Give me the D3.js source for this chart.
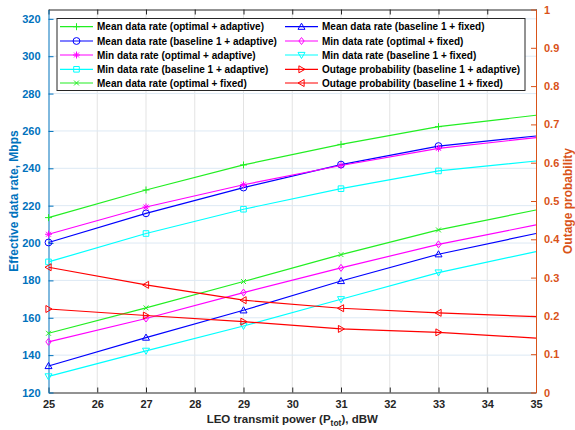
<!DOCTYPE html>
<html>
<head>
<meta charset="utf-8">
<script src="https://cdn.jsdelivr.net/npm/d3@7"></script>
<style>
  body { margin: 0; background: #fff; }
  svg text { font-family: "Liberation Sans", Arial, sans-serif; font-weight: bold; }
</style>
</head>
<body>
<div id="chart"></div>
<script>
// transmit power, dBW (markers on all but the last point)
const power = [25, 27, 29, 31, 33, 35];

// data rates, Mbps (left axis)
const meanOptAdaptive   = [213.6, 228.4, 241.8, 252.8, 262.3, 268.4];
const meanBaseAdaptive  = [200.3, 215.9, 229.7, 242.0, 251.9, 257.3];
const minOptAdaptive    = [204.7, 219.3, 231.2, 241.5, 250.7, 256.4];
const minBaseAdaptive   = [189.9, 205.1, 218.1, 229.1, 238.6, 243.9];
const meanOptFixed      = [151.7, 165.3, 179.4, 193.8, 207.0, 217.7];
const meanBaseFixed     = [134.2, 149.4, 164.0, 179.7, 194.0, 205.1];
const minOptFixed       = [147.1, 159.6, 173.5, 186.7, 199.3, 209.7];
const minBaseFixed      = [128.6, 142.3, 155.6, 169.9, 184.2, 195.4];

// outage probability (right axis)
const outageBaseAdaptive = [0.218, 0.201, 0.185, 0.166, 0.157, 0.142];
const outageBaseFixed    = [0.327, 0.281, 0.241, 0.220, 0.208, 0.198];

const xTicks = [25, 26, 27, 28, 29, 30, 31, 32, 33, 34, 35];
const leftTicks = [120, 140, 160, 180, 200, 220, 240, 260, 280, 300, 320];
const rightTicks = [0, 0.1, 0.2, 0.3, 0.4, 0.5, 0.6, 0.7, 0.8, 0.9, 1];

const series = [
  { name: "Mean data rate (optimal + adaptive)",    values: meanOptAdaptive,    axis: "L", color: "#22ee22", marker: "plus" },
  { name: "Mean data rate (baseline 1 + adaptive)", values: meanBaseAdaptive,   axis: "L", color: "#0000ff", marker: "circle" },
  { name: "Min data rate (optimal + adaptive)",     values: minOptAdaptive,     axis: "L", color: "#ff00ff", marker: "star" },
  { name: "Min data rate (baseline 1 + adaptive)",  values: minBaseAdaptive,    axis: "L", color: "#00ffff", marker: "square" },
  { name: "Mean data rate (optimal + fixed)",       values: meanOptFixed,       axis: "L", color: "#22ee22", marker: "cross" },
  { name: "Mean data rate (baseline 1 + fixed)",    values: meanBaseFixed,      axis: "L", color: "#0000ff", marker: "triUp" },
  { name: "Min data rate (optimal + fixed)",        values: minOptFixed,        axis: "L", color: "#ff00ff", marker: "diamond" },
  { name: "Min data rate (baseline 1 + fixed)",     values: minBaseFixed,       axis: "L", color: "#00ffff", marker: "triDown" },
  { name: "Outage probability (baseline 1 + adaptive)", values: outageBaseAdaptive, axis: "R", color: "#ff0000", marker: "triRight" },
  { name: "Outage probability (baseline 1 + fixed)",    values: outageBaseFixed,    axis: "R", color: "#ff0000", marker: "triLeft" }
];

const W = 575, H = 430;
const plot = { left: 48.5, right: 536, top: 9.5, bottom: 392.5 };
const leftColor = "#0072BD", rightColor = "#D95319", axisGray = "#262626";

const svg = d3.select("#chart").append("svg")
  .attr("width", W).attr("height", H);

const x = d3.scaleLinear().domain([25, 35]).range([plot.left, plot.right]);
const yL = d3.scaleLinear().domain([120, 325]).range([plot.bottom, plot.top]);
const yR = d3.scaleLinear().domain([0, 1]).range([plot.bottom, plot.top]);

// grid
const grid = svg.append("g");
grid.selectAll(".vg").data(xTicks.slice(1, -1)).join("line")
  .attr("x1", d => x(d)).attr("x2", d => x(d))
  .attr("y1", plot.top).attr("y2", plot.bottom)
  .attr("stroke", "#e3e3e3").attr("stroke-width", 1);
grid.selectAll(".hg").data(leftTicks.slice(1)).join("line")
  .attr("x1", plot.left).attr("x2", plot.right)
  .attr("y1", d => yL(d)).attr("y2", d => yL(d))
  .attr("stroke", "#dde9f4").attr("stroke-width", 1);

// axes
const tick = 5;
const axBottom = svg.append("g").attr("transform", `translate(0,${plot.bottom})`)
  .call(d3.axisBottom(x).tickValues(xTicks).tickSizeInner(-tick).tickSizeOuter(0).tickPadding(8));
const axTop = svg.append("g").attr("transform", `translate(0,${plot.top})`)
  .call(d3.axisTop(x).tickValues(xTicks).tickSizeInner(-tick).tickSizeOuter(0).tickFormat(""));
[axBottom, axTop].forEach(a => {
  a.select(".domain").attr("stroke", axisGray);
  a.selectAll(".tick line").attr("stroke", axisGray);
  a.selectAll("text").attr("fill", axisGray).style("font-size", "11px");
});

const axLeft = svg.append("g").attr("transform", `translate(${plot.left},0)`)
  .call(d3.axisLeft(yL).tickValues(leftTicks).tickSizeInner(-tick).tickSizeOuter(0).tickPadding(8));
axLeft.select(".domain").attr("stroke", leftColor);
axLeft.selectAll(".tick line").attr("stroke", leftColor);
axLeft.selectAll("text").attr("fill", leftColor).style("font-size", "11px");

const axRight = svg.append("g").attr("transform", `translate(${plot.right},0)`)
  .call(d3.axisRight(yR).tickValues(rightTicks).tickSizeInner(-tick).tickSizeOuter(0).tickPadding(8)
    .tickFormat(d => d === 0 || d === 1 ? d3.format("d")(d) : d3.format(".1f")(d)));
axRight.select(".domain").attr("stroke", rightColor);
axRight.selectAll(".tick line").attr("stroke", rightColor);
axRight.selectAll("text").attr("fill", rightColor).style("font-size", "11px");

// axis titles
const xt = svg.append("text")
  .attr("x", (plot.left + plot.right) / 2).attr("y", 423)
  .attr("text-anchor", "middle").attr("fill", axisGray).style("font-size", "11.5px");
xt.append("tspan").text("LEO transmit power (P");
xt.append("tspan").text("tot").attr("dy", 3).style("font-size", "8.5px");
xt.append("tspan").text("), dBW").attr("dy", -3);

svg.append("text")
  .attr("transform", `translate(18,${(plot.top + plot.bottom) / 2}) rotate(-90)`)
  .attr("text-anchor", "middle").attr("fill", leftColor).style("font-size", "12px")
  .text("Effective data rate, Mbps");
svg.append("text")
  .attr("transform", `translate(572,${(plot.top + plot.bottom) / 2}) rotate(-90)`)
  .attr("text-anchor", "middle").attr("fill", rightColor).style("font-size", "12px")
  .text("Outage probability");

// marker drawing
function drawMarker(g, type, color, s) {
  const h = s / 2;
  const p = g.append("path").attr("fill", "none").attr("stroke", color).attr("stroke-width", 1);
  switch (type) {
    case "plus": p.attr("d", `M${-h},0H${h}M0,${-h}V${h}`); break;
    case "cross": p.attr("d", `M${-h*0.7},${-h*0.7}L${h*0.7},${h*0.7}M${-h*0.7},${h*0.7}L${h*0.7},${-h*0.7}`); break;
    case "star": p.attr("d", `M${-h},0H${h}M0,${-h}V${h}M${-h*0.7},${-h*0.7}L${h*0.7},${h*0.7}M${-h*0.7},${h*0.7}L${h*0.7},${-h*0.7}`); break;
    case "circle": p.attr("d", d3.symbol(d3.symbolCircle, s * s * 0.75)()); break;
    case "square": p.attr("d", `M${-h*0.8},${-h*0.8}h${s*0.8}v${s*0.8}h${-s*0.8}Z`); break;
    case "diamond": p.attr("d", `M0,${-h}L${h*0.75},0L0,${h}L${-h*0.75},0Z`); break;
    case "triUp": p.attr("d", `M0,${-h}L${h},${h*0.75}L${-h},${h*0.75}Z`); break;
    case "triDown": p.attr("d", `M0,${h}L${h},${-h*0.75}L${-h},${-h*0.75}Z`); break;
    case "triRight": p.attr("d", `M${h},0L${-h*0.75},${-h}L${-h*0.75},${h}Z`); break;
    case "triLeft": p.attr("d", `M${-h},0L${h*0.75},${-h}L${h*0.75},${h}Z`); break;
  }
}

// lines
const linesG = svg.append("g");
series.forEach(s => {
  const y = s.axis === "L" ? yL : yR;
  const line = d3.line().x((d, i) => x(power[i])).y(d => y(d));
  linesG.append("path").datum(s.values)
    .attr("d", line).attr("fill", "none")
    .attr("stroke", s.color).attr("stroke-width", 1.2);
  s.values.slice(0, -1).forEach((v, i) => {
    const g = linesG.append("g").attr("transform", `translate(${x(power[i])},${y(v)})`);
    drawMarker(g, s.marker, s.color, 7);
  });
});

// legend
const leg = { x: 57, y: 18.5, w: 468, h: 72 };
const legend = svg.append("g");
legend.append("rect")
  .attr("x", leg.x).attr("y", leg.y).attr("width", leg.w).attr("height", leg.h)
  .attr("fill", "#fff").attr("stroke", axisGray).attr("stroke-width", 1);
const colX = [60, 285];
const rowY = [26.7, 41, 55, 69.3, 83];
series.forEach((s, i) => {
  const col = Math.floor(i / 5), row = i % 5;
  const lx = colX[col], ly = rowY[row];
  const g = legend.append("g");
  g.append("line").attr("x1", lx).attr("x2", lx + 33).attr("y1", ly).attr("y2", ly)
    .attr("stroke", s.color).attr("stroke-width", 1.2);
  drawMarker(g.append("g").attr("transform", `translate(${lx + 16.5},${ly})`), s.marker, s.color, 7);
  g.append("text").attr("x", lx + 37).attr("y", ly).attr("dy", "0.35em")
    .attr("fill", "#000").style("font-size", "10px").text(s.name);
});
</script>
</body>
</html>
